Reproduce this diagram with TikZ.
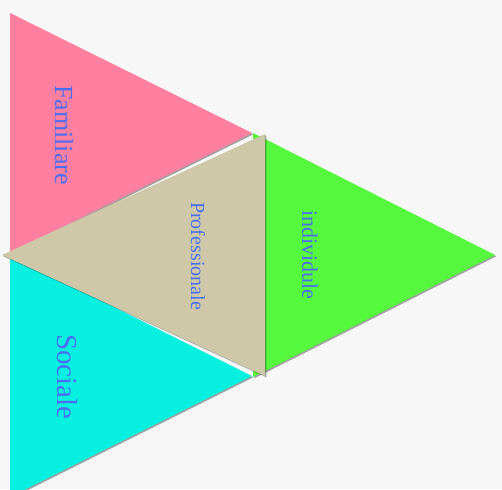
\documentclass[tikz,border=0pt]{standalone}
\usepackage{fontspec}
\setmainfont{Liberation Serif}
\usetikzlibrary{shadows}
\definecolor{paper}{HTML}{F7F7F7}
\definecolor{rosefill}{HTML}{FF7FA0}
\definecolor{tanfill}{HTML}{CEC8A8}
\definecolor{limefill}{HTML}{55F83C}
\definecolor{aquafill}{HTML}{08F0E0}
\definecolor{labelblue}{HTML}{4A6EF0}
\tikzset{
  wedge/.style={draw=none,
    drop shadow={shadow xshift=1.3pt, shadow yshift=-1.3pt, fill=black, opacity=0.35}},
  sidelabel/.style={text=labelblue, rotate=-90, inner sep=0pt}
}

\begin{document}
\begin{tikzpicture}[x=1pt,y=-1pt]
  \useasboundingbox (0,0) rectangle (502,489);
  \fill[paper] (0,0) rectangle (502,489);
  % corners of the four triangles
  \coordinate (famA) at (10,13);
  \coordinate (famB) at (252,133);
  \coordinate (famC) at (10,253);
  \coordinate (socA) at (10,255);
  \coordinate (socB) at (252,376);
  \coordinate (socC) at (10,497);
  \coordinate (indA) at (253,133);
  \coordinate (indB) at (495,255);
  \coordinate (indC) at (253,377);
  \coordinate (proA) at (2,255);
  \coordinate (proB) at (265,134);
  \coordinate (proC) at (265,376);
  \begin{scope}
    \clip (0,0) rectangle (502,489);
    \path[wedge, fill=rosefill] (famA) -- (famB) -- (famC) -- cycle;
    \path[wedge, fill=aquafill] (socA) -- (socB) -- (socC) -- cycle;
    \path[wedge, fill=limefill] (indA) -- (indB) -- (indC) -- cycle;
    \path[wedge, fill=tanfill] (proA) -- (proB) -- (proC) -- cycle;
  \end{scope}
  % labels
  \node[sidelabel, font=\fontsize{26}{26}\selectfont] (familiare) at (64,135) {Familiare};
  \node[sidelabel, font=\fontsize{20}{20}\selectfont] (professionale) at (198,256) {Professionale};
  \node[sidelabel, font=\fontsize{22}{22}\selectfont] (individule) at (310,255) {individule};
  \node[sidelabel, font=\fontsize{29}{29}\selectfont] (sociale) at (67,377) {Sociale};
\end{tikzpicture}
\end{document}
